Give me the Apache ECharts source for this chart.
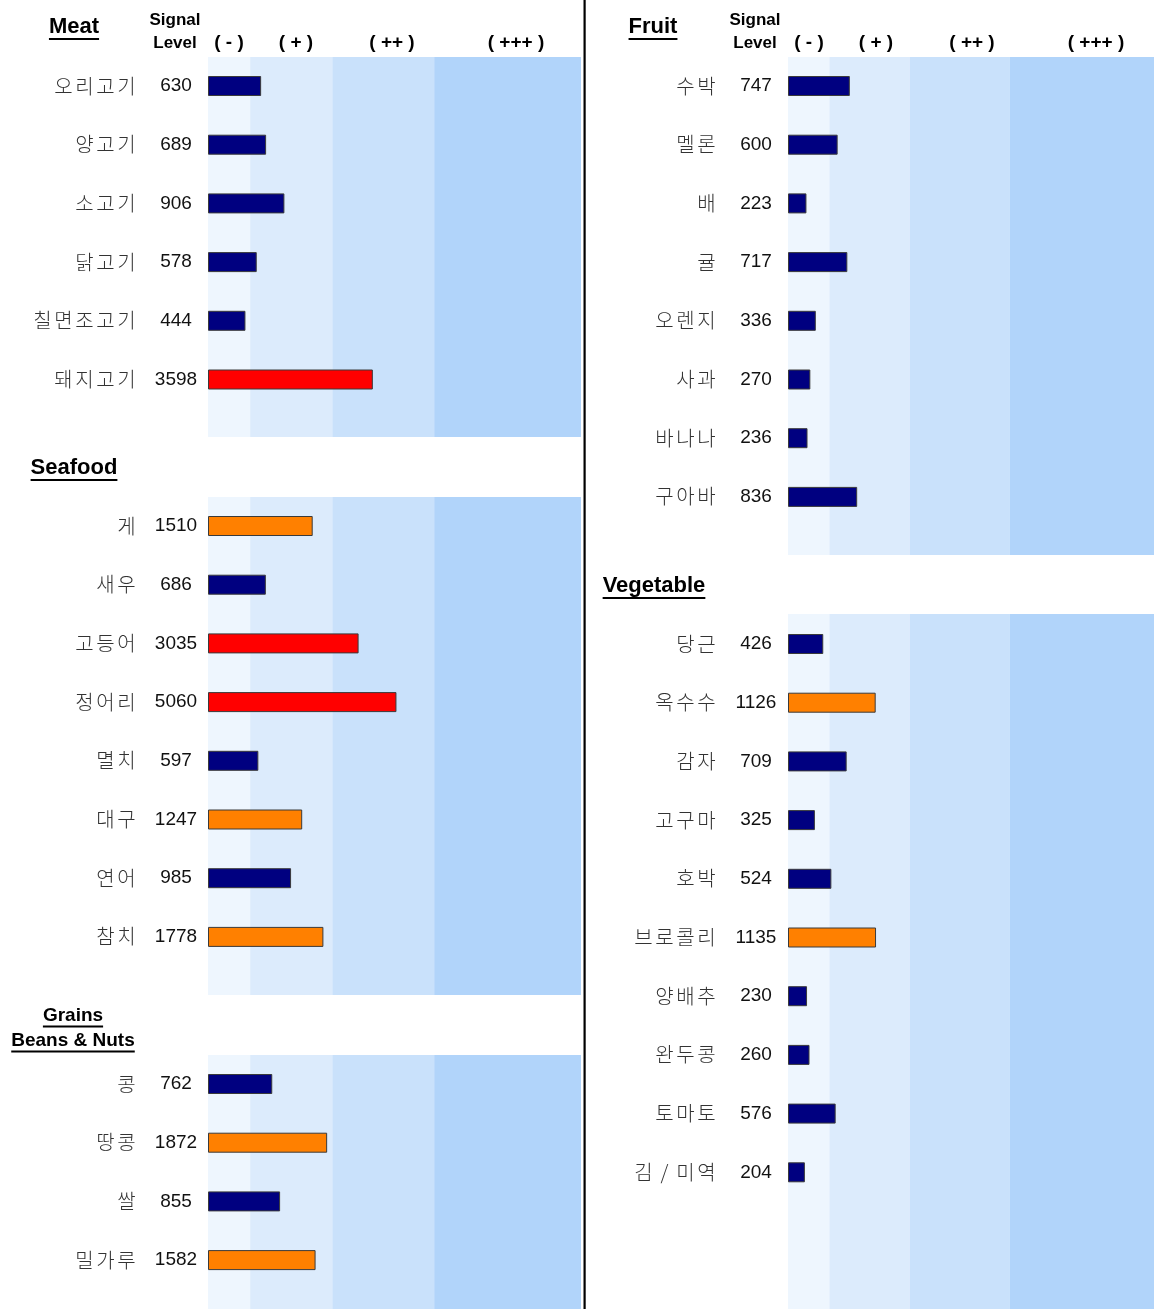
<!DOCTYPE html>
<html>
<head>
<meta charset="utf-8">
<style>
  html, body { margin: 0; padding: 0; background: #fff; }
  #box { width: 1154px; height: 1309px; }
</style>
<script src="https://cdn.jsdelivr.net/npm/echarts@6/dist/echarts.min.js"></script>
</head>
<body>
<div id="box"></div>
<script>
// 항목 이름 / 신호값
const meatNames = ['오리고기', '양고기', '소고기', '닭고기', '칠면조고기', '돼지고기'];
const meatValues = [630, 689, 906, 578, 444, 3598];
const seafoodNames = ['게', '새우', '고등어', '정어리', '멸치', '대구', '연어', '참치'];
const seafoodValues = [1510, 686, 3035, 5060, 597, 1247, 985, 1778];
const grainNames = ['콩', '땅콩', '쌀', '밀가루'];
const grainValues = [762, 1872, 855, 1582];
const fruitNames = ['수박', '멜론', '배', '귤', '오렌지', '사과', '바나나', '구아바'];
const fruitValues = [747, 600, 223, 717, 336, 270, 236, 836];
const vegNames = ['당근', '옥수수', '감자', '고구마', '호박', '브로콜리', '양배추', '완두콩', '토마토', '김/미역'];
const vegValues = [426, 1126, 709, 325, 524, 1135, 230, 260, 576, 204];

// signal level bands: ( - ) ( + ) ( ++ ) ( +++ )
const levelLabels = ['( - )', '( + )', '( ++ )', '( +++ )'];
const levelEdges = [0, 500, 2000, 10000, 50000];
// bar colour classes
const orangeFrom = 1000;
const redFrom = 3000;

// the signal axis is compressed above 1000 (piecewise scale via axis breaks)
const axisBreaks = [
  { start: 1000, end: 1999, gap: 473 },
  { start: 2001, end: 3599, gap: 480 },
  { start: 3601, end: 5099, gap: 285 },
  { start: 5101, end: 9999, gap: 437 },
  { start: 10001, end: 49999, gap: 1739 }
];

const bandColors = ['#eef6fe', '#dcebfc', '#c9e1fb', '#b1d4fa'];
const latin = '"Liberation Sans", Arial, sans-serif';
const hangul = '"Noto Sans CJK KR", sans-serif';
const rowH = 58.7;
const plotW = 373;

const panels = [
  { names: meatNames, values: meatValues, left: 208, bandTop: 57, bandBottom: 437, rowTop: 86 - rowH / 2 },
  { names: seafoodNames, values: seafoodValues, left: 208, bandTop: 497, bandBottom: 995, rowTop: 526 - rowH / 2 },
  { names: grainNames, values: grainValues, left: 208, bandTop: 1055, bandBottom: 1309, rowTop: 1084 - rowH / 2 },
  { names: fruitNames, values: fruitValues, left: 788, bandTop: 57, bandBottom: 555, rowTop: 86 - rowH / 2 },
  { names: vegNames, values: vegValues, left: 788, bandTop: 614, bandBottom: 1309, rowTop: 644 - rowH / 2 }
];

let chart = echarts.init(document.getElementById('box'), null, { renderer: 'canvas' });

function signalAxis(gridIndex) {
  return {
    type: 'value',
    gridIndex: gridIndex,
    min: levelEdges[0],
    max: levelEdges[levelEdges.length - 1],
    breaks: axisBreaks,
    show: false,
    splitLine: { show: false }
  };
}

function barColor(p) {
  if (p.value >= redFrom) return '#ff0000';
  if (p.value >= orangeFrom) return '#ff8000';
  return '#000080';
}

// 글자 간격: 한 글자씩 고정폭 칸에 넣음
function spacedName(name) {
  let chars = Array.from(name);
  return chars.map(function (ch, k) {
    return '{' + (k === chars.length - 1 ? 'e' : 'c') + '|' + ch + '}';
  }).join('');
}

const nameCell = { fontFamily: hangul, fontSize: 20, fontWeight: 300, color: '#333', width: 21, align: 'center' };

let grids = [], xAxes = [], yAxes = [], series = [];

panels.forEach(function (pn, i) {
  let bandIdx = i * 2, barIdx = i * 2 + 1;
  // 배경 밴드
  grids.push({ left: pn.left, top: pn.bandTop, width: plotW, height: pn.bandBottom - pn.bandTop });
  xAxes.push(signalAxis(bandIdx));
  yAxes.push({ type: 'value', gridIndex: bandIdx, min: 0, max: 1, show: false });
  series.push({
    type: 'line',
    xAxisIndex: bandIdx,
    yAxisIndex: bandIdx,
    data: [],
    silent: true,
    z: 1,
    markArea: {
      silent: true,
      label: { show: false },
      data: levelLabels.map(function (lab, k) {
        return [
          { name: lab, xAxis: levelEdges[k], itemStyle: { color: bandColors[k] } },
          { xAxis: levelEdges[k + 1] }
        ];
      })
    }
  });

  // 막대
  grids.push({ left: pn.left, top: pn.rowTop, width: plotW, height: pn.names.length * rowH });
  xAxes.push(signalAxis(barIdx));
  yAxes.push({
    type: 'category',
    gridIndex: barIdx,
    inverse: true,
    data: pn.names,
    axisLine: { show: false },
    axisTick: { show: false },
    splitLine: { show: false },
    axisLabel: {
      margin: 0,
      formatter: function (val, idx) {
        return spacedName(val) + '{v|' + pn.values[idx] + '}';
      },
      rich: {
        c: nameCell,
        e: Object.assign({}, nameCell, { padding: [0, 7, 0, 0] }),
        v: { fontFamily: latin, fontSize: 19, color: '#111', width: 64, align: 'center' }
      }
    }
  });
  series.push({
    type: 'bar',
    xAxisIndex: barIdx,
    yAxisIndex: barIdx,
    data: pn.values,
    barWidth: 20,
    z: 3,
    itemStyle: { color: barColor, borderColor: '#3a3a3a', borderWidth: 1 }
  });
});

// 제목, 헤더
const measure = document.createElement('canvas').getContext('2d');
let graphics = [];

function addText(text, cx, cy, size, underline) {
  let font = 'bold ' + size + 'px ' + latin;
  graphics.push({
    type: 'text',
    style: { text: text, x: cx, y: cy, font: font, fill: '#000', align: 'center', verticalAlign: 'middle' }
  });
  if (underline) {
    measure.font = font;
    let w = measure.measureText(text).width;
    let uy = cy + size * 0.5;
    graphics.push({
      type: 'rect',
      shape: { x: cx - w / 2, y: uy, width: w, height: 2 },
      style: { fill: '#000' }
    });
  }
}

addText('Meat', 74, 27, 22, true);
addText('Fruit', 653, 27, 22, true);
addText('Seafood', 74, 468, 22, true);
addText('Vegetable', 654, 586, 22, true);
addText('Grains', 73, 1016, 19, true);
addText('Beans & Nuts', 73, 1041, 19, true);

[[175, [229, 296, 392, 516]], [755, [809, 876, 972, 1096]]].forEach(function (h) {
  addText('Signal', h[0], 20, 17, false);
  addText('Level', h[0], 43, 17, false);
  h[1].forEach(function (x, k) { addText(levelLabels[k], x, 43, 19, false); });
});

graphics.push({
  type: 'rect',
  shape: { x: 583.5, y: 0, width: 2.2, height: 1309 },
  style: { fill: '#000' }
});

let option = {
  backgroundColor: '#fff',
  animation: false,
  grid: grids,
  xAxis: xAxes,
  yAxis: yAxes,
  series: series,
  graphic: graphics
};
chart.setOption(option);
</script>
</body>
</html>
